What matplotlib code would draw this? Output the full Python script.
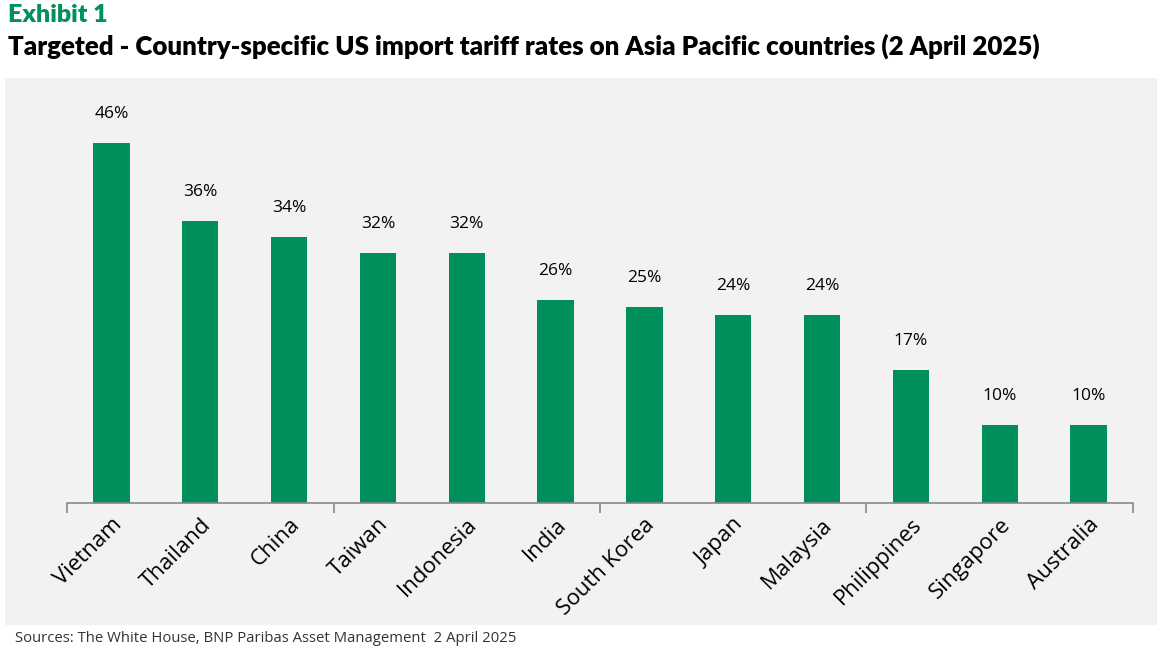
import matplotlib
matplotlib.use("Agg")
import matplotlib.pyplot as plt

countries = ["Vietnam", "Thailand", "China", "Taiwan", "Indonesia", "India",
             "South Korea", "Japan", "Malaysia", "Philippines", "Singapore", "Australia"]
rates = [46, 36, 34, 32, 32, 26, 25, 24, 24, 17, 10, 10]
value_labels = [f"{v}%" for v in rates]

W, H = 1158, 651
fig = plt.figure(figsize=(W / 100, H / 100), dpi=100)
fig.patch.set_facecolor("white")

# grey panel
bg = fig.add_axes([5 / W, 1 - 625 / H, (1157 - 5) / W, (625 - 78) / H], zorder=0)
bg.set_facecolor("#f2f2f2")
bg.set_xticks([]); bg.set_yticks([])
for s in bg.spines.values():
    s.set_visible(False)

ax = fig.add_axes([67 / W, 148 / H, (1133 - 67) / W, (503 - 96) / H], zorder=1)
ax.set_facecolor("none")
green = "#008f5a"
x = list(range(len(countries)))
bars = ax.bar(x, rates, width=0.41, color=green, zorder=2)
ax.set_xlim(-0.5, len(countries) - 0.5)
ax.set_ylim(0, 52)
for xi, v, lab in zip(x, rates, value_labels):
    ax.annotate(lab, (xi, v), xytext=(0, 15), textcoords="offset points",
                ha="center", va="bottom", fontsize=12.5, family="Open Sans",
                color="black")
for s in ["top", "right", "left"]:
    ax.spines[s].set_visible(False)
ax.spines["bottom"].set_color("#888888")
ax.spines["bottom"].set_linewidth(1.2)
ax.set_yticks([])
ticks = [-0.5 + 1.5 * k for k in range(9)]
ax.set_xticks(ticks, minor=True)
ax.set_xticks(x)
ax.set_xticklabels(countries, rotation=45, ha="right", rotation_mode="anchor",
                   fontsize=16, family="Open Sans")
ax.tick_params(axis="x", which="major", length=0, pad=8)
ax.tick_params(axis="x", which="minor", length=7, color="#888888", width=1.2)

fig.text(8 / W, 1 - 15 / H, "Exhibit 1", color="#00915a", fontsize=18,
         fontweight="heavy", family="Lato", va="center", ha="left")
fig.text(8 / W, 1 - 46 / H,
         "Targeted - Country-specific US import tariff rates on Asia Pacific countries (2 April 2025)",
         color="black", fontsize=18.6, fontweight="heavy", family="Lato", va="center", ha="left")
fig.text(15 / W, 1 - 638 / H,
         "Sources: The White House, BNP Paribas Asset Management  2 April 2025",
         color="#333333", fontsize=10.7, family="Open Sans", va="center", ha="left")

fig.savefig("out.png", dpi=100)
